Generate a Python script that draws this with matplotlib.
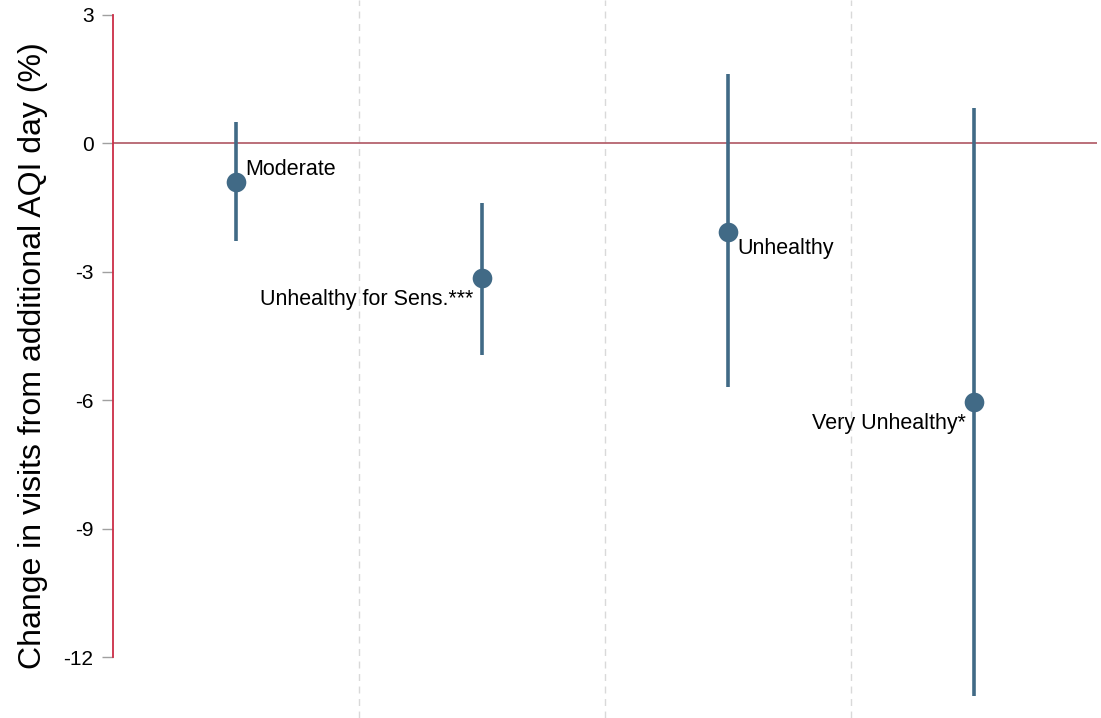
import numpy as np
import matplotlib.pyplot as plt

plt.rcParams['font.family'] = ['Liberation Sans', 'DejaVu Sans']

# AQI category estimates with 95% CIs (% change in visits)
categories = ['Moderate', 'Unhealthy for Sens.***', 'Unhealthy', 'Very Unhealthy*']
coef = [-0.89, -3.15, -2.06, -6.05]
ci_low = [-2.27, -4.93, -5.70, -12.9]
ci_high = [0.49, -1.40, 1.61, 0.82]
yticks = [3, 0, -3, -6, -9, -12]

navy = '#416a86'
xpos = np.arange(1, len(categories) + 1)

fig = plt.figure(figsize=(11.01, 7.18), dpi=100)
ax = fig.add_axes([113 / 1101, 0, 984 / 1101, 1])

ax.axhline(0, color='#b5636e', lw=1.3, zorder=1)
for xv in xpos[:-1] + 0.5:
    ax.axvline(xv, color='#d9d9d9', lw=1, ls=(0, (5, 4)), zorder=0)

ax.vlines(xpos, ci_low, ci_high, color=navy, lw=2.6, zorder=2)
ax.scatter(xpos, coef, s=200, color=navy, zorder=3, linewidths=0)

# label offsets (points) and alignment per marker
offsets = [(7, 9, 'left'), (-6, -15, 'right'), (7, -12, 'left'), (-6, -15, 'right')]
for x, y, lab, (dx, dy, ha) in zip(xpos, coef, categories, offsets):
    ax.annotate(lab, (x, y), xytext=(dx, dy), textcoords='offset points',
                ha=ha, va='center', fontsize=15.5)

ax.set_xlim(0.5, 4.5)
ax.set_ylim(-13.42, 3.35)
ax.set_yticks(yticks)
ax.set_yticklabels([str(t) for t in yticks], fontsize=15)
ax.set_xticks([])
ax.tick_params(axis='y', length=8, width=1, color='#a0a0a0', pad=6)

for side in ['top', 'right', 'bottom']:
    ax.spines[side].set_visible(False)
ax.spines['left'].set_color('#cc2d46')
ax.spines['left'].set_linewidth(1.3)
ax.spines['left'].set_bounds(-12, 3)

ax.set_ylabel('Change in visits from additional AQI day (%)', fontsize=23, labelpad=11)
ax.yaxis.label.set_y(1 - 356 / 718)

fig.savefig('out.png', dpi=100)
